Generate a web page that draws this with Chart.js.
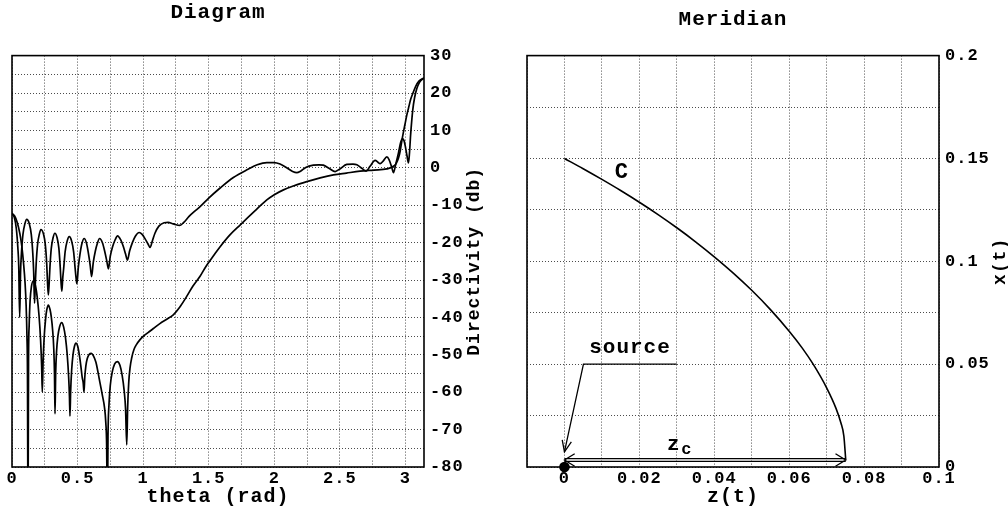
<!DOCTYPE html>
<html><head><meta charset="utf-8">
<script src="https://cdn.jsdelivr.net/npm/chart.js@4.4.1/dist/chart.umd.min.js"></script>
<style>
html,body{margin:0;padding:0;background:#fff;width:1008px;height:511px;overflow:hidden;}
canvas{position:absolute;top:0;}
#c1{left:0;} #c2{left:504px;}
</style></head><body>
<canvas id="c1" width="504" height="511"></canvas>
<canvas id="c2" width="504" height="511"></canvas>
<script>
// ---------- Left panel: Diagram ----------
const titleLeft = 'Diagram';
const thetaMax = 3.1416;
const thetaTickValues = [0, 0.5, 1, 1.5, 2, 2.5, 3];
const thetaTickLabels = ['0', '0.5', '1', '1.5', '2', '2.5', '3'];
const dbTickValues = [30, 20, 10, 0, -10, -20, -30, -40, -50, -60, -70, -80];
const dbTickLabels = ['30', '20', '10', '0', '-10', '-20', '-30', '-40', '-50', '-60', '-70', '-80'];

const thetaA = [0.000,0.018,0.033,0.0445,0.0515,0.0585,0.0653,0.0721,0.0835,0.0982,0.112,0.1323,0.147,0.1584,0.1652,0.172,
 0.1783,0.1846,0.1951,0.2088,0.220,0.2402,0.2539,0.2644,0.2707,0.277,0.2832,0.2894,0.2997,0.3131,0.327,0.344,0.3573,0.3676,0.3738,0.380,
 0.3869,0.3938,0.4053,0.4203,0.437,0.4547,0.4697,0.4812,0.4881,0.495,0.506,0.5196,0.5342,0.550,0.5678,0.5824,0.596,0.607,
 0.6198,0.6352,0.6518,0.668,0.6902,0.7068,0.7222,0.735,0.7495,0.7669,0.7858,0.805,0.8293,0.8482,0.8655,0.880,
 0.8973,0.918,0.9405,0.970,0.9925,1.015,1.036,1.053,1.070,1.090,1.120,1.160,1.190,1.230,1.280,1.310,1.350,1.400,1.434,1.500,1.587,1.688,1.800,1.870,
 1.943,2.000,2.044,2.100,2.140,2.172,2.200,2.240,2.298,2.340,2.374,2.420,2.464,2.500,2.553,2.600,2.630,2.670,2.700,2.730,2.769,2.790,2.807,2.830,2.858,
 2.875,2.895,2.909,2.925,2.947,2.965,2.977,2.990,3.000,3.012,3.023,3.030,3.040,3.056,3.070,3.087,3.105,3.120,3.1416];
const dbA = [-12.2,-13.3,-16.3,-21.3,-26.3,-40.0,-27.8,-22.8,-17.8,-15.0,-13.8,-15.0,-17.8,-22.8,-27.8,-36.2,
 -30.5,-25.5,-20.5,-17.7,-16.5,-17.7,-20.5,-25.5,-30.5,-34.0,-31.0,-26.5,-21.5,-18.7,-17.5,-18.7,-21.5,-26.5,-30.5,-33.0,
 -29.5,-27.0,-22.4,-19.6,-18.4,-19.6,-22.4,-26.8,-29.3,-31.0,-26.5,-22.8,-20.1,-18.9,-20.1,-22.8,-26.0,-29.1,
 -25.3,-22.3,-20.1,-18.9,-20.1,-22.3,-24.8,-27.0,-23.6,-21.1,-19.3,-18.2,-19.3,-21.0,-23.0,-24.7,
 -22.2,-20.0,-18.3,-17.3,-17.8,-19.0,-20.3,-21.3,-19.6,-17.5,-15.6,-14.7,-14.6,-15.0,-15.4,-14.6,-13.0,-11.4,-10.4,-8.1,-5.4,-2.6,-0.4,0.8,
 1.4,1.4,1.0,-0.1,-1.0,-1.3,-0.9,0.1,0.7,0.8,0.7,-0.2,-1.0,-0.3,0.9,1.0,0.8,-0.2,-0.9,0.4,2.0,1.5,1.1,1.8,2.9,
 2.2,0.2,-1.3,0.8,4.0,7.0,7.8,7.2,5.6,3.2,1.3,3.5,9.0,15.5,18.8,21.2,22.7,23.4,24.0];

const thetaB = [0.000,0.020,0.040,0.060,0.075,0.088,0.100,0.108,0.114,0.118,0.122,0.126,0.131,0.138,0.148,0.163,0.178,0.192,0.206,0.218,0.226,0.231,
 0.237,0.245,0.256,0.265,0.277,0.290,0.300,0.310,0.318,0.324,0.328,0.333,0.340,0.350,0.363,0.379,0.394,0.408,0.421,0.432,0.438,0.442,
 0.447,0.455,0.465,0.476,0.488,0.500,0.512,0.525,0.535,0.543,0.549,0.555,0.563,0.574,0.588,0.605,0.620,0.640,0.655,0.671,0.690,0.705,0.715,0.722,0.727,
 0.732,0.740,0.750,0.765,0.783,0.803,0.823,0.840,0.855,0.866,0.875,0.882,0.890,0.900,0.913,0.930,0.950,0.975,1.000,1.040,1.080,1.130,1.180,1.230,1.280,1.330,1.380,
 1.434,1.480,1.535,1.587,1.660,1.739,1.850,1.943,2.000,2.070,2.150,2.248,2.350,2.451,2.550,2.654,2.760,2.858,2.909,2.930,2.947,2.960,2.972,2.985,2.998,3.010,3.023,3.040,3.061,3.080,3.099,3.120,3.1416];
const dbB = [-12.2,-12.9,-14.6,-17.6,-21.0,-25.5,-31.0,-37.0,-45.0,-55.0,-95.0,-52.0,-42.0,-35.5,-31.8,-30.2,-31.4,-34.5,-39.5,-46.0,-53.0,-60.0,
 -52.0,-45.5,-40.5,-38.0,-36.7,-37.9,-40.0,-43.5,-48.0,-55.0,-65.8,-55.0,-49.0,-45.0,-42.5,-41.4,-42.6,-45.5,-50.0,-56.0,-61.0,-66.4,
 -60.0,-54.0,-50.0,-47.8,-46.9,-47.6,-49.7,-53.0,-56.0,-57.5,-60.0,-56.0,-53.0,-51.0,-49.9,-49.6,-50.2,-52.0,-54.5,-57.5,-61.0,-64.0,-68.0,-75.0,-95.0,
 -72.0,-63.0,-58.0,-54.5,-52.4,-51.8,-52.8,-55.5,-59.5,-64.5,-74.1,-64.0,-57.5,-53.5,-50.8,-48.6,-47.2,-46.0,-45.1,-44.0,-42.9,-41.6,-40.5,-39.3,-37.2,-34.5,-31.6,
 -29.0,-26.3,-23.6,-21.1,-18.0,-15.3,-11.6,-8.6,-7.2,-5.9,-4.8,-3.7,-2.7,-1.9,-1.4,-0.9,-0.6,-0.3,0.4,1.2,2.6,4.5,7.1,9.6,11.9,14.0,15.9,18.3,20.3,21.9,23.0,23.6,24.0];

// ---------- Right panel: Meridian ----------
const titleRight = 'Meridian';
const zTickValues = [0, 0.02, 0.04, 0.06, 0.08, 0.1];
const zTickLabels = ['0', '0.02', '0.04', '0.06', '0.08', '0.1'];
const xTickValues = [0, 0.05, 0.1, 0.15, 0.2];
const xTickLabels = ['0', '0.05', '0.1', '0.15', '0.2'];

const curveZ = [0, 0.005, 0.01, 0.015, 0.02, 0.025, 0.03, 0.035, 0.04, 0.045, 0.05, 0.055, 0.06, 0.0635, 0.0664, 0.07, 0.0725, 0.0738, 0.0746, 0.0751];
const curveX = [0.1500, 0.1450, 0.1398, 0.1344, 0.1287, 0.1227, 0.1163, 0.1095, 0.1022, 0.0944, 0.0859, 0.0765, 0.0660, 0.0578, 0.0500, 0.0385, 0.0285, 0.0215, 0.0150, 0.0035];

const leaderZ = [0.03, 0.00507, 0.0];
const leaderX = [0.05, 0.05, 0.0074];
const zcShaftZ = [0, 0.0751];
const zcShaftUpperX = [0.0041, 0.0041];
const zcShaftLowerX = [0.0027, 0.0027];
const sourceZ = [0];
const sourceX = [0];

const annoTexts = ['C', 'source', 'z', 'c'];
const annoAt = [[0.0153, 0.1434], [0.0175, 0.0578], [0.0292, 0.0108], [0.0327, 0.0084]];
const annoSize = [22, 21, 21, 17];
const sourceTip = [0, 0.0074], sourceBend = [0.00507, 0.05];
const zcStart = [0, 0.0034], zcEnd = [0.0751, 0.0034];

// ---------- helpers ----------
const FONT = "'Liberation Mono', 'Courier New', monospace";
const GRID = 'rgba(0,0,0,0.7)';
const toXY = (xs, ys) => xs.map((v, i) => ({x: v, y: ys[i]}));
const labelFor = (vals, labs) => (v) => { const i = vals.findIndex(t => Math.abs(t - v) < 1e-6); return i >= 0 ? labs[i] : ''; };
const tickFont = {family: FONT, size: 17, weight: 'bold', lineHeight: 1};
const titleFont = {family: FONT, size: 21, weight: 'bold'};
const axisTitleFont = {family: FONT, size: 20, weight: 'bold'};

Chart.defaults.color = '#000';
Chart.defaults.font.family = FONT;
Chart.defaults.font.weight = 'bold';

const spacingPlugin = {id: 'spacing', beforeDraw(chart) { chart.ctx.letterSpacing = '1px'; }};
const framePlugin = {id: 'frame', beforeDatasetsDraw(chart) {
  const {ctx, chartArea: a} = chart;
  ctx.save(); ctx.setLineDash([]); ctx.lineWidth = 1.6; ctx.strokeStyle = '#000';
  ctx.strokeRect(a.left, a.top, a.right - a.left, a.bottom - a.top); ctx.restore();
}};
const sideTitlePlugin = {id: 'sideTitle', afterDraw(chart, args, opts) {
  const t = chart.options.scales.y.title.text; const a = chart.chartArea; const ctx = chart.ctx;
  ctx.save(); ctx.letterSpacing = '1px'; ctx.font = 'bold ' + opts.size + 'px ' + FONT;
  ctx.fillStyle = '#000'; ctx.textAlign = 'center'; ctx.textBaseline = 'middle';
  ctx.translate(a.right + opts.offset, (a.top + a.bottom) / 2); ctx.rotate(-Math.PI / 2);
  ctx.fillText(t, 0, 0); ctx.restore();
}};
const annoPlugin = {id: 'anno', afterDatasetsDraw(chart) {
  const {ctx, scales: {x, y}} = chart;
  const P = p => [x.getPixelForValue(p[0]), y.getPixelForValue(p[1])];
  ctx.save(); ctx.setLineDash([]); ctx.strokeStyle = '#000'; ctx.lineWidth = 1.3;
  const head = (tip, from, len, ang) => {
    const [tx, ty] = P(tip), [fx, fy] = P(from); const a = Math.atan2(fy - ty, fx - tx);
    ctx.beginPath();
    ctx.moveTo(tx + len * Math.cos(a + ang), ty + len * Math.sin(a + ang));
    ctx.lineTo(tx, ty);
    ctx.lineTo(tx + len * Math.cos(a - ang), ty + len * Math.sin(a - ang));
    ctx.stroke();
  };
  head(sourceTip, sourceBend, 12, 0.4);
  head(zcStart, zcEnd, 12, 0.55);
  head(zcEnd, zcStart, 12, 0.55);
  ctx.fillStyle = '#000'; ctx.textAlign = 'center'; ctx.textBaseline = 'middle'; ctx.letterSpacing = '1px';
  annoTexts.forEach((t, i) => { ctx.font = 'bold ' + annoSize[i] + 'px ' + FONT; const [px, py] = P(annoAt[i]); ctx.fillText(t, px, py); });
  ctx.restore();
}};

const lineDs = (data, w, mono) => ({data, showLine: true, borderColor: '#000', backgroundColor: '#000', borderWidth: w, pointRadius: 0,
  cubicInterpolationMode: mono ? 'monotone' : 'default', tension: 0});

function axisCommon(min, max, step, cb, pad) {
  return {type: 'linear', min, max,
    ticks: {stepSize: step, includeBounds: false, autoSkip: false, maxRotation: 0, minRotation: 0, padding: pad, font: tickFont, color: '#000', callback: cb},
    grid: {color: GRID, lineWidth: 1, drawTicks: false}, border: {display: false, dash: [1, 2]}};
}

// Left chart
const lx = axisCommon(0, thetaMax, 0.25, labelFor(thetaTickValues, thetaTickLabels), 3.5);
lx.position = 'bottom';
lx.title = {display: true, text: 'theta (rad)', font: axisTitleFont, color: '#000', padding: {top: 0, bottom: 2}};
lx.afterFit = s => { s.height = 44; };
const ly = axisCommon(-80, 30, 5, labelFor(dbTickValues, dbTickLabels), 6);
ly.position = 'right';
ly.title = {display: false, text: 'Directivity (db)'};
ly.afterFit = s => { s.width = 80; };

new Chart(document.getElementById('c1'), {
  type: 'scatter',
  data: {datasets: [lineDs(toXY(thetaA, dbA), 1.7, true), lineDs(toXY(thetaB, dbB), 1.7, true)]},
  options: {
    responsive: false, animation: false, events: [],
    layout: {padding: {left: 12, right: 0, top: 0, bottom: 0}},
    plugins: {legend: {display: false}, tooltip: {enabled: false},
      title: {display: true, text: titleLeft, fullSize: false, font: titleFont, color: '#000', padding: {top: 0, bottom: 30.4}},
      sideTitle: {offset: 50, size: 18}},
    scales: {x: lx, y: ly}
  },
  plugins: [spacingPlugin, framePlugin, sideTitlePlugin]
});

// Right chart
const rx = axisCommon(-0.01, 0.1, 0.01, labelFor(zTickValues, zTickLabels), 3.5);
rx.position = 'bottom';
rx.title = {display: true, text: 'z(t)', font: axisTitleFont, color: '#000', padding: {top: 0, bottom: 2}};
rx.afterFit = s => { s.height = 44; };
const ry = axisCommon(0, 0.2, 0.025, labelFor(xTickValues, xTickLabels), 6);
ry.position = 'right';
ry.title = {display: false, text: 'x(t)'};
ry.afterFit = s => { s.width = 69; };

const srcDs = {data: toXY(sourceZ, sourceX), showLine: false, pointRadius: 5.3, pointBackgroundColor: '#000', pointBorderColor: '#000', pointBorderWidth: 0, clip: false};

new Chart(document.getElementById('c2'), {
  type: 'scatter',
  data: {datasets: [
    lineDs(toXY(curveZ, curveX), 1.6, true),
    lineDs(toXY(leaderZ, leaderX), 1.3, false),
    lineDs(toXY(zcShaftZ, zcShaftUpperX), 1.2, false),
    lineDs(toXY(zcShaftZ, zcShaftLowerX), 1.2, false),
    srcDs
  ]},
  options: {
    responsive: false, animation: false, events: [],
    layout: {padding: {left: 23, right: 0, top: 0, bottom: 0}},
    plugins: {legend: {display: false}, tooltip: {enabled: false},
      title: {display: true, text: titleRight, fullSize: false, font: titleFont, color: '#000', padding: {top: 7, bottom: 23.4}},
      sideTitle: {offset: 61, size: 18}},
    scales: {x: rx, y: ry}
  },
  plugins: [spacingPlugin, framePlugin, sideTitlePlugin, annoPlugin]
});
</script>
</body></html>
